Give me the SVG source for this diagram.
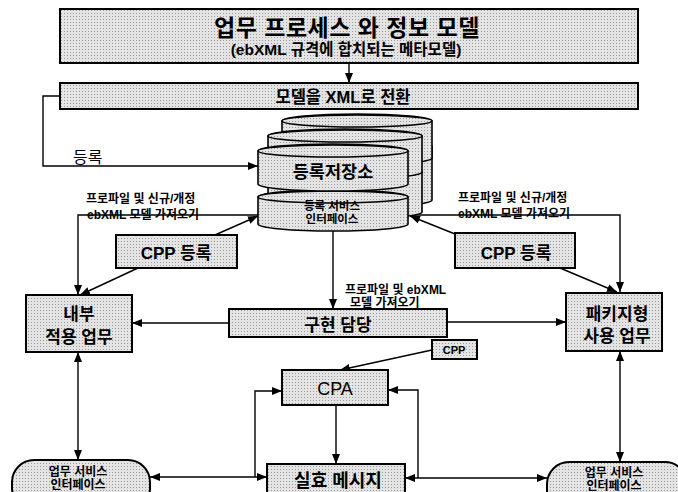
<svg xmlns="http://www.w3.org/2000/svg" width="678" height="492" viewBox="0 0 678 492">
<defs>
<pattern id="ht" width="3" height="3" patternUnits="userSpaceOnUse">
<rect width="3" height="3" fill="#e4e4e4"/>
<rect x="1" y="1" width="1" height="1" fill="#9a9a9a"/>
</pattern>
<marker id="ah" viewBox="0 0 10 8" refX="10" refY="4" markerWidth="10" markerHeight="8" markerUnits="userSpaceOnUse" orient="auto-start-reverse">
<path d="M0,0 L10,4 L0,8 Z" fill="#000"/>
</marker>
</defs>
<style>
.box{fill:url(#ht);stroke:#000;stroke-width:2}
.cyl{fill:url(#ht);stroke:#000;stroke-width:1.6}
.c{fill:none;stroke:#000;stroke-width:1.4}
.t{font-family:"Liberation Sans","Noto Sans CJK KR",sans-serif;font-weight:bold;fill:#000;text-anchor:middle}
.l{font-family:"Liberation Sans","Noto Sans CJK KR",sans-serif;font-weight:bold;fill:#000;font-size:12px}
</style>
<rect width="678" height="492" fill="#fff"/>

<g id="connectors">
<path class="c" d="M349,63 V83" marker-end="url(#ah)"/>
<path class="c" d="M60,96 H43 V166 H258" marker-end="url(#ah)"/>
<path class="c" d="M258,215 H78 V295" marker-end="url(#ah)"/>
<path class="c" d="M215,235 L258,216" marker-end="url(#ah)"/>
<path class="c" d="M138,268 L80,295" marker-end="url(#ah)"/>
<path class="c" d="M410,215 H620 V292" marker-end="url(#ah)"/>
<path class="c" d="M455,234 L410,216" marker-end="url(#ah)"/>
<path class="c" d="M560,268 L617,292" marker-end="url(#ah)"/>
<path class="c" d="M333,231 V309" marker-end="url(#ah)"/>
<path class="c" d="M229,323 H132" marker-end="url(#ah)"/>
<path class="c" d="M447,322 H566" marker-end="url(#ah)"/>
<path class="c" d="M432,350 L340,370" marker-end="url(#ah)"/>
<path class="c" d="M336,405 V464" marker-end="url(#ah)"/>
<path class="c" d="M255,477 V391 H282" marker-end="url(#ah)"/>
<path class="c" d="M150,477 H267" marker-start="url(#ah)" marker-end="url(#ah)"/>
<path class="c" d="M418,478 V390 H388" marker-end="url(#ah)"/>
<path class="c" d="M405,478 H547" marker-start="url(#ah)" marker-end="url(#ah)"/>
<path class="c" d="M78,352 V460" marker-start="url(#ah)" marker-end="url(#ah)"/>
<path class="c" d="M620,351 V462" marker-start="url(#ah)" marker-end="url(#ah)"/>
</g>

<g id="model">
<rect class="box" x="60" y="9" width="578" height="54"/>
<text class="t" x="347" y="36" font-size="23" letter-spacing="0.5">업무 프로세스 와 정보 모델</text>
<text class="t" x="346" y="55" font-size="15.5">(ebXML 규격에 합치되는 메타모델)</text>
</g>

<g id="xml">
<rect class="box" x="60" y="83" width="578" height="26"/>
<text class="t" x="343" y="103" font-size="16.5">모델을 XML로 전환</text>
</g>

<g id="registry">
<path class="cyl" d="M282,147 A75,7 0 0 1 432,147 V200 A75,7 0 0 1 282,200 Z"/>
<ellipse class="cyl" cx="357" cy="147" rx="75" ry="6"/>
<path class="cyl" d="M282,121 A75,7 0 0 1 432,121 V158 A75,7 0 0 1 282,158 Z"/>
<ellipse class="cyl" cx="357" cy="121" rx="75" ry="6"/>
<path class="cyl" d="M268,172 A77,7 0 0 1 422,172 V212 A77,7 0 0 1 268,212 Z"/>
<ellipse class="cyl" cx="345" cy="172" rx="77" ry="6"/>
<path class="cyl" d="M268,136 A77,7 0 0 1 422,136 V172 A77,7 0 0 1 268,172 Z"/>
<ellipse class="cyl" cx="345" cy="136" rx="77" ry="6"/>
<path class="cyl" d="M258,197 A75,7 0 0 1 408,197 V224 A75,7 0 0 1 258,224 Z"/>
<ellipse class="cyl" cx="333" cy="197" rx="75" ry="6"/>
<path class="cyl" d="M258,151 A75,7 0 0 1 408,151 V184 A75,7 0 0 1 258,184 Z"/>
<ellipse class="cyl" cx="333" cy="151" rx="75" ry="6"/>
<text class="t" x="333" y="178" font-size="17.5">등록저장소</text>
<text class="t" x="332" y="210" font-size="11.5">등록 서비스</text>
<text class="t" x="332" y="223" font-size="11.5">인터페이스</text>
</g>

<g id="labels">
<text class="l" x="73" y="163" style="font-size:16px;font-weight:normal">등록</text>
<text class="l" x="86" y="203">프로파일 및 신규/개정</text>
<text class="l" x="87" y="219">ebXML 모델 가져오기</text>
<text class="l" x="458" y="202">프로파일 및 신규/개정</text>
<text class="l" x="458" y="218">ebXML 모델 가져오기</text>
<text class="l" x="345" y="294">프로파일 및 ebXML</text>
<text class="l" x="350" y="307">모델 가져오기</text>
</g>

<g id="cpp-left">
<rect class="box" x="116" y="235" width="121" height="33"/>
<text class="t" x="176" y="259" font-size="17">CPP 등록</text>
</g>

<g id="cpp-right">
<rect class="box" x="455" y="233" width="120" height="35"/>
<text class="t" x="516" y="259" font-size="17">CPP 등록</text>
</g>

<g id="internal">
<rect class="box" x="26" y="295" width="106" height="57"/>
<text class="t" x="79" y="320" font-size="17">내부</text>
<text class="t" x="79" y="343" font-size="17">적용 업무</text>
</g>

<g id="impl">
<rect class="box" x="229" y="309" width="218" height="28"/>
<text class="t" x="338" y="331" font-size="17">구현 담당</text>
</g>

<g id="package">
<rect class="box" x="566" y="293" width="96" height="58"/>
<text class="t" x="617" y="320" font-size="17">패키지형</text>
<text class="t" x="617" y="342" font-size="17">사용 업무</text>
</g>

<g id="cpp-small">
<rect class="box" x="432" y="340" width="45" height="19"/>
<text class="t" x="454" y="354" font-size="11">CPP</text>
</g>

<g id="cpa">
<rect class="box" x="282" y="370" width="106" height="35"/>
<text class="t" x="335" y="395" font-size="18" style="font-weight:normal">CPA</text>
</g>

<g id="message">
<rect class="box" x="267" y="464" width="138" height="40"/>
<text class="t" x="338" y="487" font-size="18">실효 메시지</text>
</g>

<g id="svc-left">
<rect class="box" x="12" y="460" width="138" height="50" rx="22" ry="22"/>
<text class="t" x="78" y="476" font-size="12">업무 서비스</text>
<text class="t" x="78" y="489" font-size="12">인터페이스</text>
</g>

<g id="svc-right">
<rect class="box" x="547" y="462" width="140" height="50" rx="22" ry="22"/>
<text class="t" x="614" y="477" font-size="12">업무 서비스</text>
<text class="t" x="614" y="490" font-size="12">인터페이스</text>
</g>
</svg>
